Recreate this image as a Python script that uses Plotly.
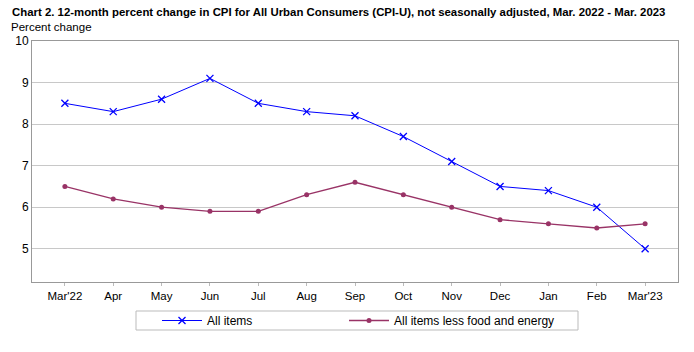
import plotly.graph_objects as go

months = ["Mar'22", "Apr", "May", "Jun", "Jul", "Aug", "Sep", "Oct", "Nov", "Dec", "Jan", "Feb", "Mar'23"]
all_items = [8.5, 8.3, 8.6, 9.1, 8.5, 8.3, 8.2, 7.7, 7.1, 6.5, 6.4, 6.0, 5.0]
core = [6.5, 6.2, 6.0, 5.9, 5.9, 6.3, 6.6, 6.3, 6.0, 5.7, 5.6, 5.5, 5.6]
y_ticks = [5, 6, 7, 8, 9, 10]

W, H = 694, 352
pl, pr, pt, pb = 32, 16, 41, 70
pw, ph = W - pl - pr, H - pt - pb
def px_to_paper(x, y):
    return (x - pl) / pw, (H - pb - y) / ph

fig = go.Figure()
fig.add_trace(go.Scatter(
    x=list(range(len(months))), y=all_items, name="All items", mode="lines+markers",
    line=dict(color="#0000FF", width=1),
    marker=dict(symbol="x-thin", size=7, line=dict(color="#0000FF", width=1.3)),
    legend="legend",
))
fig.add_trace(go.Scatter(
    x=list(range(len(months))), y=core, name="All items less food and energy", mode="lines+markers",
    line=dict(color="#993366", width=1.3),
    marker=dict(symbol="circle", size=5, color="#993366"),
    legend="legend2",
))

l1x, l1y = px_to_paper(157, 306)
l2x, l2y = px_to_paper(344, 306)
legend_common = dict(orientation="h", xanchor="left", yanchor="top", borderwidth=0,
                     bgcolor="rgba(0,0,0,0)", font=dict(size=12), itemwidth=40)

fig.update_layout(
    width=W, height=H,
    margin=dict(l=pl, r=pr, t=pt, b=pb),
    paper_bgcolor="white", plot_bgcolor="white",
    font=dict(family="Liberation Sans, Arial, sans-serif", size=11, color="#000000"),
    showlegend=True,
    legend=dict(x=l1x, y=l1y, **legend_common),
    legend2=dict(x=l2x, y=l2y, **legend_common),
)

bx0, by0 = px_to_paper(136, 330)
bx1, by1 = px_to_paper(578, 311)
fig.add_shape(type="rect", xref="paper", yref="paper", x0=bx0, y0=by0, x1=bx1, y1=by1,
              line=dict(color="#BBBBBB", width=1), fillcolor="rgba(0,0,0,0)", layer="below")

tx, ty = px_to_paper(10, 12)
px2, py2 = px_to_paper(9, 27)
fig.add_annotation(text="<b>Chart 2. 12-month percent change in CPI for All Urban Consumers (CPI-U), not seasonally adjusted, Mar. 2022 - Mar. 2023</b>",
                   x=tx, y=ty, xref="paper", yref="paper", xanchor="left", yanchor="middle",
                   showarrow=False, font=dict(size=11.4))
fig.add_annotation(text="Percent change", x=px2, y=py2, xref="paper", yref="paper",
                   xanchor="left", yanchor="middle", showarrow=False, font=dict(size=11.5))

fig.update_xaxes(
    range=[-0.68, 12.68], tickmode="array", tickvals=list(range(len(months))), ticktext=months,
    showgrid=False, showline=True, linecolor="#999999", linewidth=1, mirror=True,
    ticks="outside", ticklen=3, tickcolor="#BBBBBB", zeroline=False,
    tickfont=dict(size=11.5),
)
fig.update_yaxes(
    range=[4.2, 10], tickmode="array", tickvals=y_ticks,
    showgrid=True, gridcolor="#C8C8C8", gridwidth=1,
    showline=True, linecolor="#999999", linewidth=1, mirror=True,
    ticks="", zeroline=False, tickfont=dict(size=12),
)

fig.write_html("out.html")
